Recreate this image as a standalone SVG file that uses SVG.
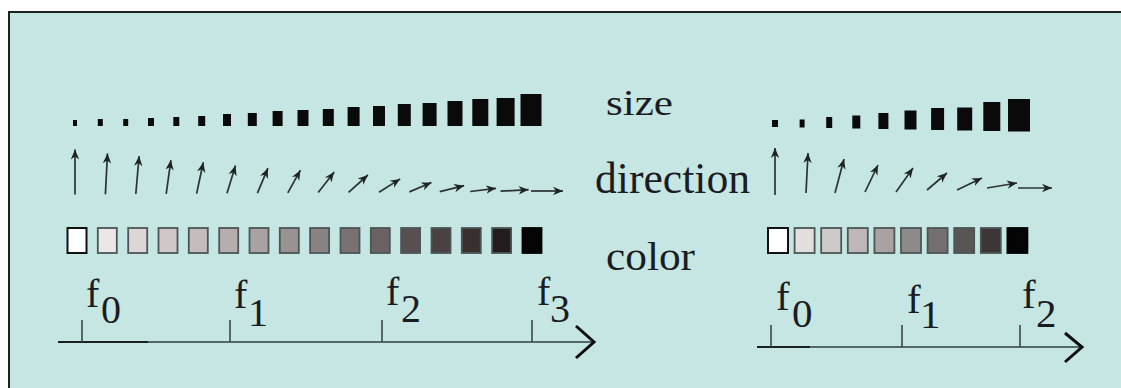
<svg xmlns="http://www.w3.org/2000/svg" width="1121" height="388" viewBox="0 0 1121 388">
<style>
.lbl{font-family:'Liberation Serif','Times New Roman','DejaVu Serif',serif;fill:#1a1c22}
.sz{fill:#0a0a0a}
.arr{stroke:#2b3333;stroke-width:1.7;fill:none;marker-end:url(#ah)}
.axis{stroke:#55676a;stroke-width:2;fill:none}
.axd{stroke:#1a1f1f;stroke-width:2;fill:none}
.chev{stroke:#0d0d0d;stroke-width:3;fill:none;stroke-linejoin:miter}
.tick{stroke:#3c4848;stroke-width:1.6}
.cs{stroke:#4c5656;stroke-width:1.8}
</style>
<defs>
<marker id="ah" markerUnits="userSpaceOnUse" markerWidth="12" markerHeight="10" refX="10" refY="5" orient="auto">
<path d="M0,0.8 L10,5 L0,9.2 L3,5 z" fill="#1e2424"/>
</marker>
</defs>
<rect x="0" y="0" width="1121" height="388" fill="#ffffff"/>
<rect id="frame" x="9" y="12" width="1130" height="390" fill="#c5e6e2" stroke="#1b2222" stroke-width="2"/>

<g id="left-size">
<rect class="sz" x="73" y="120" width="4" height="6"/>
<rect class="sz" x="97.8" y="119" width="5" height="7"/>
<rect class="sz" x="123.2" y="119" width="5" height="7"/>
<rect class="sz" x="148" y="118" width="6" height="8"/>
<rect class="sz" x="173.3" y="117" width="6" height="9"/>
<rect class="sz" x="198.2" y="116" width="7" height="10"/>
<rect class="sz" x="223" y="114" width="8" height="12"/>
<rect class="sz" x="247.8" y="113" width="9" height="13"/>
<rect class="sz" x="272.6" y="111" width="10" height="15"/>
<rect class="sz" x="297.5" y="110" width="11" height="16"/>
<rect class="sz" x="322.8" y="109" width="11" height="17"/>
<rect class="sz" x="347.6" y="107" width="12" height="19"/>
<rect class="sz" x="373" y="106" width="12" height="20"/>
<rect class="sz" x="397.8" y="104" width="13" height="22"/>
<rect class="sz" x="422.6" y="103" width="14" height="23"/>
<rect class="sz" x="447.5" y="101" width="15" height="25"/>
<rect class="sz" x="472.3" y="99" width="16" height="27"/>
<rect class="sz" x="496.6" y="98" width="18" height="28"/>
<rect class="sz" x="520.5" y="94" width="21" height="32"/>
</g>

<g id="left-direction">
<line class="arr" x1="75" y1="194.5" x2="75" y2="149.5"/>
<line class="arr" x1="105.4" y1="194.3" x2="107.5" y2="153.4"/>
<line class="arr" x1="135.8" y1="194" x2="139.1" y2="156.1"/>
<line class="arr" x1="166.2" y1="193.8" x2="170.9" y2="160.1"/>
<line class="arr" x1="196.6" y1="193.6" x2="203.3" y2="162.3"/>
<line class="arr" x1="227" y1="193.3" x2="235.5" y2="165.6"/>
<line class="arr" x1="257.4" y1="193.1" x2="267.9" y2="168.2"/>
<line class="arr" x1="287.8" y1="192.9" x2="300.4" y2="170.2"/>
<line class="arr" x1="318.2" y1="192.6" x2="334.2" y2="172.1"/>
<line class="arr" x1="348.6" y1="192.4" x2="367.9" y2="175"/>
<line class="arr" x1="379" y1="192.2" x2="400.2" y2="178.9"/>
<line class="arr" x1="409.4" y1="191.9" x2="431.5" y2="182.5"/>
<line class="arr" x1="439.8" y1="191.7" x2="464.1" y2="185.7"/>
<line class="arr" x1="470.2" y1="191.5" x2="496" y2="188.3"/>
<line class="arr" x1="500.6" y1="191.2" x2="528.6" y2="189.7"/>
<line class="arr" x1="531" y1="191" x2="563" y2="191"/>
</g>

<g id="left-color">
<rect x="67.5" y="228" width="19" height="25" fill="#ffffff" stroke="#111111" stroke-width="2"/>
<rect class="cs" x="97.8" y="228" width="19" height="25" fill="#ebe7e7"/>
<rect class="cs" x="128.2" y="228" width="19" height="25" fill="#dcd6d6"/>
<rect class="cs" x="158.5" y="228" width="19" height="25" fill="#d0c8c8"/>
<rect class="cs" x="188.8" y="228" width="19" height="25" fill="#c4bcbc"/>
<rect class="cs" x="219.2" y="228" width="19" height="25" fill="#b6aeae"/>
<rect class="cs" x="249.5" y="228" width="19" height="25" fill="#a8a2a2"/>
<rect class="cs" x="279.8" y="228" width="19" height="25" fill="#989292"/>
<rect class="cs" x="310.1" y="228" width="19" height="25" fill="#888282"/>
<rect class="cs" x="340.5" y="228" width="19" height="25" fill="#7a7272"/>
<rect class="cs" x="370.8" y="228" width="19" height="25" fill="#6a6262"/>
<rect class="cs" x="401.1" y="228" width="19" height="25" fill="#585050"/>
<rect class="cs" x="431.5" y="228" width="19" height="25" fill="#4a4242"/>
<rect class="cs" x="461.8" y="228" width="19" height="25" fill="#3a3030"/>
<rect class="cs" x="492.1" y="228" width="19" height="25" fill="#221c1c"/>
<rect x="522.5" y="228" width="19" height="25" fill="#050505" stroke="#000" stroke-width="1.8"/>
</g>

<g id="labels">
<text class="lbl" x="606" y="115" font-size="35" textLength="67" lengthAdjust="spacingAndGlyphs">size</text>
<text class="lbl" x="595" y="193" font-size="45" textLength="155" lengthAdjust="spacingAndGlyphs">direction</text>
<text class="lbl" x="606" y="270" font-size="41" textLength="89" lengthAdjust="spacingAndGlyphs">color</text>
</g>

<g id="left-axis">
<line class="axis" x1="58" y1="342" x2="594" y2="342"/>
<line class="axd" x1="58" y1="342" x2="148" y2="342"/>
<polyline class="chev" points="576,326 594,342 576,358"/>
<line class="tick" x1="82" y1="320" x2="82" y2="342"/>
<line class="tick" x1="230" y1="320" x2="230" y2="342"/>
<line class="tick" x1="382" y1="320" x2="382" y2="342"/>
<line class="tick" x1="532" y1="320" x2="532" y2="342"/>
<text class="lbl" font-size="40"><tspan x="86" y="307">f</tspan><tspan x="101" y="323">0</tspan></text>
<text class="lbl" font-size="40"><tspan x="234" y="308">f</tspan><tspan x="248" y="326">1</tspan></text>
<text class="lbl" font-size="40"><tspan x="386" y="305">f</tspan><tspan x="401" y="322">2</tspan></text>
<text class="lbl" font-size="40"><tspan x="537" y="305">f</tspan><tspan x="550" y="322">3</tspan></text>
</g>

<g id="right-size">
<rect class="sz" x="772" y="120" width="6" height="7"/>
<rect class="sz" x="799.6" y="119.5" width="5" height="8"/>
<rect class="sz" x="826.2" y="117" width="6" height="11"/>
<rect class="sz" x="852.3" y="115.5" width="8" height="13"/>
<rect class="sz" x="878.4" y="113" width="10" height="16"/>
<rect class="sz" x="904.5" y="110.5" width="12" height="19"/>
<rect class="sz" x="931.1" y="108" width="13" height="22"/>
<rect class="sz" x="957.2" y="107.5" width="15" height="23"/>
<rect class="sz" x="983.3" y="102" width="17" height="29"/>
<rect class="sz" x="1008" y="99" width="22" height="32.5"/>
</g>

<g id="right-direction">
<line class="arr" x1="775" y1="195" x2="775" y2="148"/>
<line class="arr" x1="806" y1="193" x2="808" y2="153"/>
<line class="arr" x1="835" y1="193" x2="844" y2="159"/>
<line class="arr" x1="865" y1="192" x2="878" y2="165"/>
<line class="arr" x1="896" y1="192" x2="913" y2="168"/>
<line class="arr" x1="927" y1="190" x2="947" y2="173"/>
<line class="arr" x1="957" y1="190" x2="982" y2="178"/>
<line class="arr" x1="987" y1="188" x2="1017" y2="183"/>
<line class="arr" x1="1018" y1="188" x2="1052" y2="188"/>
</g>

<g id="right-color">
<rect x="768" y="228" width="20" height="25" fill="#ffffff" stroke="#111111" stroke-width="2"/>
<rect class="cs" x="794.6" y="228" width="20" height="25" fill="#e2dede"/>
<rect class="cs" x="821.2" y="228" width="20" height="25" fill="#cfcaca"/>
<rect class="cs" x="847.8" y="228" width="20" height="25" fill="#bdb7b7"/>
<rect class="cs" x="874.4" y="228" width="20" height="25" fill="#a8a2a2"/>
<rect class="cs" x="901" y="228" width="20" height="25" fill="#8f8a8a"/>
<rect class="cs" x="927.6" y="228" width="20" height="25" fill="#757070"/>
<rect class="cs" x="954.2" y="228" width="20" height="25" fill="#5a5555"/>
<rect class="cs" x="980.8" y="228" width="20" height="25" fill="#3c3636"/>
<rect x="1007.4" y="228" width="20" height="25" fill="#050505" stroke="#000" stroke-width="1.8"/>
</g>

<g id="right-axis">
<line class="axis" x1="757" y1="347" x2="1082" y2="347"/>
<line class="axd" x1="757" y1="347" x2="810" y2="347"/>
<polyline class="chev" points="1065,333 1082,347 1065,362"/>
<line class="tick" x1="771" y1="325" x2="771" y2="347"/>
<line class="tick" x1="902" y1="325" x2="902" y2="347"/>
<line class="tick" x1="1020" y1="325" x2="1020" y2="347"/>
<text class="lbl" font-size="41"><tspan x="776" y="310">f</tspan><tspan x="792" y="327">0</tspan></text>
<text class="lbl" font-size="41"><tspan x="907" y="313">f</tspan><tspan x="920" y="328">1</tspan></text>
<text class="lbl" font-size="41"><tspan x="1022" y="308">f</tspan><tspan x="1036" y="327">2</tspan></text>
</g>
</svg>
